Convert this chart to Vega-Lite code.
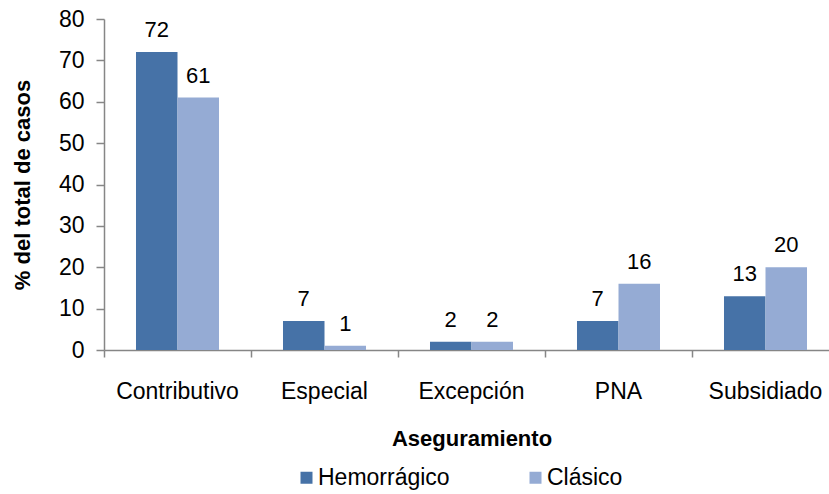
{
  "$schema": "https://vega.github.io/schema/vega-lite/v6.json",
  "width": 725,
  "height": 331,
  "autosize": {"type": "none"},
  "padding": {"left": 104, "top": 19, "right": 0, "bottom": 144},
  "background": "white",
  "config": {
    "view": {"stroke": null},
    "font": "Liberation Sans",
    "axis": {"grid": false, "domainColor": "#868686", "tickColor": "#868686", "labelColor": "#000000", "titleColor": "#000000", "labelFont": "Liberation Sans", "titleFont": "Liberation Sans"}
  },
  "data": {
    "values": [
      {"categoria": "Contributivo", "tipo": "Hemorrágico", "valor": 72},
      {"categoria": "Contributivo", "tipo": "Clásico", "valor": 61},
      {"categoria": "Especial", "tipo": "Hemorrágico", "valor": 7},
      {"categoria": "Especial", "tipo": "Clásico", "valor": 1},
      {"categoria": "Excepción", "tipo": "Hemorrágico", "valor": 2},
      {"categoria": "Excepción", "tipo": "Clásico", "valor": 2},
      {"categoria": "PNA", "tipo": "Hemorrágico", "valor": 7},
      {"categoria": "PNA", "tipo": "Clásico", "valor": 16},
      {"categoria": "Subsidiado", "tipo": "Hemorrágico", "valor": 13},
      {"categoria": "Subsidiado", "tipo": "Clásico", "valor": 20}
    ]
  },
  "encoding": {
    "x": {
      "field": "categoria",
      "type": "nominal",
      "sort": ["Contributivo", "Especial", "Excepción", "PNA", "Subsidiado"],
      "scale": {"range": [0, 735], "paddingInner": 0, "paddingOuter": 0},
      "axis": {
        "title": "Aseguramiento",
        "titleFontSize": 22,
        "titleFontWeight": "bold",
        "titlePadding": 25,
        "labelFontSize": 23,
        "labelAngle": 0,
        "labelPadding": 23,
        "tickSize": 7,
        "bandPosition": 0,
        "domainWidth": 1.5,
        "tickWidth": 1.5
      }
    },
    "xOffset": {
      "field": "tipo",
      "type": "nominal",
      "sort": ["Hemorrágico", "Clásico"],
      "scale": {"paddingInner": 0, "paddingOuter": 0.771}
    },
    "y": {
      "field": "valor",
      "type": "quantitative",
      "scale": {"domain": [0, 80], "nice": false},
      "axis": {
        "title": "% del total de casos",
        "titleFontSize": 22,
        "titleFontWeight": "bold",
        "titlePadding": 24,
        "labelFontSize": 23,
        "labelPadding": 12,
        "tickSize": 8,
        "values": [0, 10, 20, 30, 40, 50, 60, 70, 80],
        "domainWidth": 1.5,
        "tickWidth": 1.5
      }
    }
  },
  "layer": [
    {
      "mark": {"type": "bar"},
      "encoding": {
        "color": {
          "field": "tipo",
          "type": "nominal",
          "sort": ["Hemorrágico", "Clásico"],
          "scale": {"domain": ["Hemorrágico", "Clásico"], "range": ["#4672A7", "#95ABD4"]},
          "legend": {
            "title": null,
            "orient": "none",
            "direction": "horizontal",
            "legendX": 191,
            "legendY": 447,
            "symbolType": "square",
            "symbolSize": 144,
            "symbolStrokeWidth": 0,
            "labelFontSize": 23,
            "labelFont": "Liberation Sans",
            "labelColor": "#000000",
            "labelOffset": 0,
            "columnPadding": 74
          }
        }
      }
    },
    {
      "mark": {"type": "text", "baseline": "alphabetic", "dy": -15, "fontSize": 22, "font": "Liberation Sans", "color": "#000000"},
      "encoding": {
        "text": {"field": "valor", "type": "quantitative"}
      }
    }
  ]
}
